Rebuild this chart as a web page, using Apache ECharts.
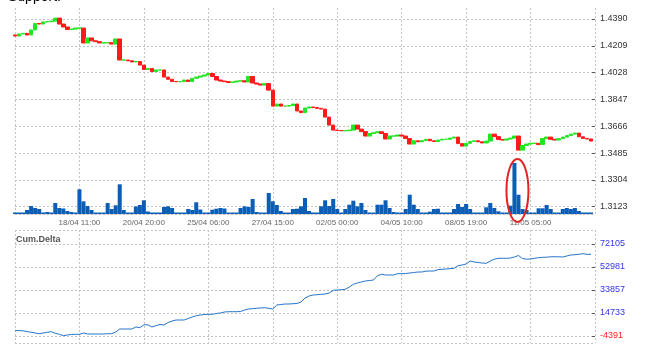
<!DOCTYPE html>
<html>
<head>
<meta charset="utf-8">
<script src="https://cdn.jsdelivr.net/npm/echarts@6/dist/echarts.min.js"></script>
<style>
  html, body { margin: 0; padding: 0; background: #fff; }
  #chart { width: 646px; height: 351px; }
</style>
</head>
<body>
<div id="chart"></div>
<script>
// x axis: one label every LABEL_STEP bars, first and last gridline unlabeled
const xTickLabels = ['', '18/04 11:00', '20/04 20:00', '25/04 06:00', '27/04 15:00',
  '02/05 00:00', '04/05 10:00', '08/05 19:00', '11/05 05:00', ''];
const LABEL_STEP = 16;

const PRICE_MIN = 1.3123, PRICE_MAX = 1.4390, PRICE_STEP = 0.0181;
const DELTA_MIN = -4391, DELTA_MAX = 72105, DELTA_STEP = 19124;

const firstOpen = 1.4282;
const closes = [
  1.4275, 1.4289, 1.4293, 1.4282, 1.4316, 1.4360, 1.4356, 1.4370, 1.4372, 1.4376,
  1.4396, 1.4356, 1.4336, 1.4319, 1.4322, 1.4329, 1.4329, 1.4228, 1.4262, 1.4243,
  1.4237, 1.4228, 1.4230, 1.4230, 1.4221, 1.4255, 1.4113, 1.4113, 1.4108, 1.4100,
  1.4103, 1.4079, 1.4049, 1.4056, 1.4035, 1.4046, 1.4046, 1.3998, 1.3983, 1.3968,
  1.3967, 1.3967, 1.3978, 1.3968, 1.3990, 1.3998, 1.4005, 1.4012, 1.4022, 1.4002,
  1.3978, 1.3971, 1.3967, 1.3961, 1.3965, 1.3971, 1.3973, 1.3965, 1.4002, 1.3958,
  1.3951, 1.3944, 1.3954, 1.3910, 1.3802, 1.3816, 1.3802, 1.3802, 1.3806, 1.3816,
  1.3769, 1.3758, 1.3789, 1.3796, 1.3792, 1.3787, 1.3782, 1.3728, 1.3674, 1.3640,
  1.3637, 1.3636, 1.3636, 1.3640, 1.3674, 1.3647, 1.3630, 1.3600, 1.3617, 1.3622,
  1.3629, 1.3617, 1.3580, 1.3600, 1.3600, 1.3607, 1.3600, 1.3583, 1.3546, 1.3568,
  1.3561, 1.3569, 1.3578, 1.3568, 1.3563, 1.3573, 1.3578, 1.3578, 1.3586, 1.3593,
  1.3549, 1.3532, 1.3551, 1.3563, 1.3568, 1.3561, 1.3553, 1.3566, 1.3613, 1.3596,
  1.3576, 1.3573, 1.3580, 1.3586, 1.3600, 1.3505, 1.3536, 1.3546, 1.3551, 1.3551,
  1.3542, 1.3583, 1.3593, 1.3578, 1.3573, 1.3582, 1.3593, 1.3603, 1.3613, 1.3620,
  1.3595, 1.3584, 1.3580, 1.3566
];

const volumes = [
  15, 15, 15, 40, 80, 60, 50, 15, 20, 15,
  110, 60, 55, 30, 20, 15, 247, 127, 80, 40,
  15, 15, 15, 110, 50, 87, 297, 40, 15, 15,
  75, 90, 137, 25, 15, 15, 15, 70, 77, 60,
  15, 15, 15, 50, 40, 117, 45, 15, 15, 43,
  53, 60, 55, 15, 15, 15, 60, 77, 70, 150,
  20, 15, 15, 210, 127, 90, 30, 15, 15, 50,
  53, 77, 160, 30, 15, 15, 77, 137, 80, 150,
  50, 15, 50, 93, 133, 77, 110, 40, 15, 15,
  93, 93, 137, 60, 20, 15, 15, 50, 193, 93,
  50, 15, 15, 23, 50, 53, 15, 15, 15, 50,
  100, 70, 100, 50, 15, 15, 15, 67, 110, 60,
  27, 15, 15, 83, 510, 193, 50, 40, 15, 15,
  57, 57, 90, 50, 15, 15, 50, 60, 50, 60,
  30, 15, 15, 15
];
const VOLUME_MAX = 2060;
const SPIKE_INDEX = 124;

const cumDelta = [
  14, 120, -50, -818, -1233, -1899, -2481, -1899, -1317, -818,
  -2148, -2979, -4143, -3562, -3146, -2979, -2979, -1899, -2730, -2730,
  -2730, -2730, -2730, -2481, -2481, -1067, 1428, 1428, 1428, 1428,
  3090, 2508, 4922, 4922, 3090, 4170, 5168, 4752, 6833, 8080,
  8911, 8911, 8911, 10158, 11406, 12486, 13069, 13484, 13650, 13650,
  14316, 14732, 15563, 15813, 15813, 15813, 15979, 17226, 18058, 18307,
  18640, 18889, 19139, 18640, 18058, 21383, 21799, 22215, 22215, 22464,
  22631, 23878, 27204, 28867, 29699, 29948, 30281, 30530, 31362, 33607,
  33856, 34106, 34438, 36351, 38596, 39676, 40508, 41340, 41755, 42171,
  45747, 46910, 46329, 46329, 46329, 47410, 47410, 47576, 47992, 48407,
  48823, 48823, 49488, 49655, 49655, 50735, 51068, 51318, 51567, 51900,
  54062, 54644, 55475, 57970, 57138, 56722, 56306, 56057, 57970, 59466,
  60215, 60215, 60215, 60464, 61296, 62543, 60048, 59466, 59633, 60215,
  60714, 61046, 61129, 61462, 61545, 61462, 61296, 62127, 62959, 63208,
  63541, 64040, 63541, 63541
];

// one extra empty slot so the last gridline sits at the right edge
const slotCount = (xTickLabels.length - 1) * LABEL_STEP + 1;
const categories = [];
for (let i = 0; i < slotCount; i++) {
  categories.push(i % LABEL_STEP === 0 ? xTickLabels[i / LABEL_STEP] : '');
}
const candles = closes.map((c, i) => {
  const o = i === 0 ? firstOpen : closes[i - 1];
  return [o, c, Math.min(o, c), Math.max(o, c)];
});
const pad = arr => arr.concat(new Array(slotCount - arr.length).fill('-'));

const FONT = '"Liberation Sans", Arial, sans-serif';
const gridLine = { show: true, lineStyle: { color: '#c4c4c4', type: [2, 2], width: 1 } };
const vSplit = { show: true, interval: LABEL_STEP - 1, lineStyle: gridLine.lineStyle };

const chart = echarts.init(document.getElementById('chart'));

const option = {
  animation: false,
  backgroundColor: '#fff',
  grid: [
    { left: 15, right: 51, top: 8, height: 206 },
    { left: 15, right: 51, top: 19, height: 187.7 },
    { left: 15, right: 51, top: 230, height: 113 },
    { left: 15, right: 51, top: 244, height: 92 }
  ],
  xAxis: [
    {
      gridIndex: 0, type: 'category', data: categories, boundaryGap: false,
      axisLine: { show: true, lineStyle: gridLine.lineStyle },
      axisTick: { show: false },
      axisLabel: { interval: LABEL_STEP - 1, fontSize: 8, color: '#666', margin: 5, fontFamily: FONT },
      splitLine: vSplit
    },
    { gridIndex: 1, type: 'category', data: categories, boundaryGap: false, show: false },
    {
      gridIndex: 2, type: 'category', data: categories, boundaryGap: false,
      axisLine: { show: false }, axisTick: { show: false }, axisLabel: { show: false },
      splitLine: vSplit
    },
    { gridIndex: 3, type: 'category', data: categories, boundaryGap: false, show: false }
  ],
  yAxis: [
    { gridIndex: 0, type: 'value', min: 0, max: VOLUME_MAX, show: false },
    {
      gridIndex: 1, type: 'value', position: 'right',
      min: PRICE_MIN, max: PRICE_MAX, interval: PRICE_STEP,
      axisLine: { show: false },
      axisTick: { show: true, inside: true, length: 3, lineStyle: { color: '#555' } },
      axisLabel: { fontSize: 9, color: '#333', margin: 5, fontFamily: FONT, formatter: v => v.toFixed(4) },
      splitLine: gridLine
    },
    {
      gridIndex: 2, type: 'value', min: 0, max: 1, interval: 1,
      axisLine: { show: false }, axisTick: { show: false }, axisLabel: { show: false },
      splitLine: gridLine
    },
    {
      gridIndex: 3, type: 'value', position: 'right',
      min: DELTA_MIN, max: DELTA_MAX, interval: DELTA_STEP,
      axisLine: { show: false },
      axisTick: { show: true, inside: true, length: 3, lineStyle: { color: '#555' } },
      axisLabel: {
        fontSize: 9, margin: 5, fontFamily: FONT,
        formatter: v => String(Math.round(v)),
        color: v => (v < 0 ? '#ff1c1c' : '#3434e6')
      },
      splitLine: gridLine
    }
  ],
  series: [
    {
      name: 'Volume', type: 'bar', xAxisIndex: 0, yAxisIndex: 0,
      data: pad(volumes), barWidth: '100%',
      itemStyle: { color: '#0b5db6' }, silent: true
    },
    {
      name: 'Price', type: 'candlestick', xAxisIndex: 1, yAxisIndex: 1,
      data: pad(candles), barWidth: '100%', clip: false,
      itemStyle: {
        color: '#22e622', color0: '#ff1a1a',
        borderColor: '#22e622', borderColor0: '#ff1a1a', borderWidth: 1
      }
    },
    {
      name: 'Cum.Delta', type: 'line', xAxisIndex: 3, yAxisIndex: 3,
      data: pad(cumDelta), showSymbol: false,
      lineStyle: { color: '#2474c9', width: 1 }
    }
  ],
  graphic: [
    { type: 'text', left: 8, top: -10, style: { text: 'Support.', font: '14px ' + FONT, fill: '#000' } },
    { type: 'text', left: 16, top: 235, style: { text: 'Cum.Delta', font: 'bold 9px ' + FONT, fill: '#555' } }
  ]
};

chart.setOption(option);

// red ring around the volume spike, placed from the spike's own pixels
const spikeBase = chart.convertToPixel({ xAxisIndex: 0, yAxisIndex: 0 }, [SPIKE_INDEX, 0]);
const spikeTop = chart.convertToPixel({ xAxisIndex: 0, yAxisIndex: 0 }, [SPIKE_INDEX, volumes[SPIKE_INDEX]]);
const spikeNext = chart.convertToPixel({ xAxisIndex: 0, yAxisIndex: 0 }, [SPIKE_INDEX + 1, 0]);
chart.setOption({
  graphic: option.graphic.concat([{
    type: 'ellipse',
    shape: {
      cx: (spikeBase[0] + spikeNext[0]) / 2 + 1,
      cy: (spikeBase[1] + spikeTop[1]) / 2 + 2,
      rx: 11,
      ry: (spikeBase[1] - spikeTop[1]) / 2 + 6
    },
    style: { fill: 'none', stroke: '#e42222', lineWidth: 2 },
    z: 100
  }])
});
</script>
</body>
</html>
